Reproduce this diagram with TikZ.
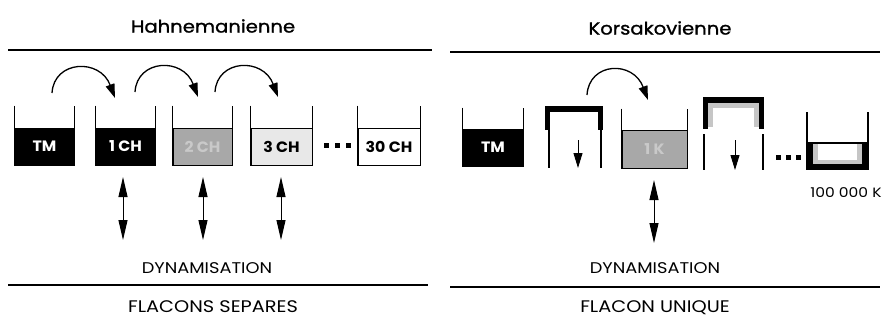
\documentclass[tikz,border=0pt]{standalone}
\usepackage{fontspec}
\setmainfont{Poppins}
\newfontfamily\gfont[FakeStretch=1.15]{Poppins}
\newfontfamily\bfont[FakeStretch=1.05]{Poppins Bold}
\newfontfamily\tfont[FakeStretch=1.12, FakeBold=1.2]{Poppins}
\usetikzlibrary{arrows.meta}
\begin{document}
\begin{tikzpicture}[x=1pt,y=-1pt,
  liquid/.style={draw=black, line width=0.8pt, minimum width=59pt, minimum height=37pt, inner sep=0pt,
    font=\bfont\fontsize{15}{15}\selectfont},
  wall/.style={line width=1.2pt},
  rule/.style={line width=1.4pt},
  hop/.style={line width=1.3pt, -{Triangle[width=9pt,length=14pt]}},
  dyn/.style={line width=1pt, {Triangle[width=9pt,length=20pt]}-{Triangle[width=9pt,length=20pt]}},
  down/.style={line width=1pt, -{Triangle[width=9pt,length=15pt]}},
  title/.style={font=\tfont\fontsize{17.5}{17.5}\selectfont},
  lab/.style={font=\gfont\fontsize{15.5}{15.5}\selectfont},
  big/.style={font=\gfont\fontsize{16.8}{16.8}\selectfont},
  dot/.style={fill=black, minimum size=5pt, inner sep=0pt},
]
\useasboundingbox (0,0) rectangle (884,322);

% titles and rules
\node[title] (th) at (213,26) {Hahnemanienne};
\node[title] (tk) at (660,28) {Korsakovienne};
\coordinate (r1a) at (8,50);  \coordinate (r1b) at (432,50);
\coordinate (r2a) at (450,52); \coordinate (r2b) at (880,52);
\draw[rule] (r1a) -- (r1b);
\draw[rule] (r2a) -- (r2b);

% ---------- left: Hahnemann ----------
\node[liquid, fill=black, text=white] (tm) at (44.5,146.5) {TM};
\node[liquid, fill=black, text=white] (c1) at (125.5,146.5) {1 CH};
\node[liquid, fill=gray!68, text=gray!42] (c2) at (202.5,146.5) {2 CH};
\node[liquid, fill=gray!18, text=black, minimum width=61pt] (c3) at (281.5,146.5) {3 CH};
\node[liquid, fill=white, text=black, minimum width=62pt] (c30) at (389,146.5) {30 CH};
\foreach \b in {tm,c1,c2,c3,c30}{
  \draw[wall] ([yshift=22pt]\b.north west) -- (\b.south west) -- (\b.south east) -- ([yshift=22pt]\b.north east);
}
\node[dot] (l1) at (326,145) {};
\node[dot] (l2) at (337,145) {};
\node[dot] (l3) at (348,145) {};

% hops
\coordinate (h1s) at (52,93);  \coordinate (h1e) at (115,98);
\coordinate (h2s) at (135,92); \coordinate (h2e) at (198,97);
\coordinate (h3s) at (215,92); \coordinate (h3e) at (278,97);
\draw[hop] (h1s) .. controls (54,60) and (100,58) .. (h1e);
\draw[hop] (h2s) .. controls (137,59) and (183,57) .. (h2e);
\draw[hop] (h3s) .. controls (217,59) and (263,57) .. (h3e);

% dynamisation
\coordinate (d1t) at (123,177); \coordinate (d1b) at (123,240);
\coordinate (d2t) at (203,177); \coordinate (d2b) at (203,240);
\coordinate (d3t) at (281,177); \coordinate (d3b) at (281,240);
\draw[dyn] (d1t) -- (d1b);
\draw[dyn] (d2t) -- (d2b);
\draw[dyn] (d3t) -- (d3b);
\node[lab] (dl) at (207,268) {DYNAMISATION};
\coordinate (r3a) at (8,285); \coordinate (r3b) at (428,285);
\draw[rule] (r3a) -- (r3b);
\node[big] (fs) at (213,307) {FLACONS SEPARES};

% ---------- right: Korsakov ----------
\node[liquid, fill=black, text=white, minimum width=60pt] (ktm) at (493,147.5) {TM};
\draw[wall] ([yshift=21pt]ktm.north west) -- (ktm.south west) -- (ktm.south east) -- ([yshift=21pt]ktm.north east);

% emptied flask 1 (cap)
\fill (545,106) rectangle (603,112);
\fill (545,106) rectangle (550,130);
\fill (598,106) rectangle (603,130);
\draw[wall] (549,130) -- (549,168);
\draw[wall] (601,130) -- (601,168);
\coordinate (k1t) at (578,140); \coordinate (k1b) at (578,168);
\draw[down] (k1t) -- (k1b);

% flask with K
\node[liquid, fill=gray!68, text=gray!42, minimum width=65pt, minimum height=38pt] (k1) at (654.5,149) {1 K};
\draw[wall] ([yshift=21pt]k1.north west) -- (k1.south west) -- (k1.south east) -- ([yshift=21pt]k1.north east);

% emptied flask 2 (cap with residue)
\fill (703,97) rectangle (764,103);
\fill (703,97) rectangle (708,129);
\fill (759,97) rectangle (764,129);
\fill[gray!45] (708,103) rectangle (759,108);
\fill[gray!45] (708,103) rectangle (713,127);
\fill[gray!45] (754,103) rectangle (759,127);
\draw[wall] (704,134) -- (704,170);
\draw[wall] (763,134) -- (763,170);
\coordinate (k2t) at (735,140); \coordinate (k2b) at (735,170);
\draw[down] (k2t) -- (k2b);

\node[dot] (m1) at (778,157) {};
\node[dot] (m2) at (788,157) {};
\node[dot] (m3) at (798,157) {};

% last flask
\fill (807,143) rectangle (868,169);
\fill[gray!45] (813,143) rectangle (862,164);
\fill[white] (818,143) rectangle (857,160);
\draw[wall] (807,112) -- (807,169) -- (868,169) -- (868,112);
\draw[wall] (807,143) -- (868,143);
\node[font=\gfont\fontsize{13.5}{13.5}\selectfont] (kk) at (846,193) {100 000 K};

% hop right
\coordinate (h4s) at (587,95); \coordinate (h4e) at (648,100);
\draw[hop] (h4s) .. controls (589,62) and (633,60) .. (h4e);

\coordinate (d4t) at (654,180); \coordinate (d4b) at (654,243);
\draw[dyn] (d4t) -- (d4b);
\node[lab] (dr) at (655,268) {DYNAMISATION};
\coordinate (r4a) at (450,287); \coordinate (r4b) at (880,287);
\draw[rule] (r4a) -- (r4b);
\node[big] (fu) at (655,308) {FLACON UNIQUE};
\end{tikzpicture}
\end{document}
